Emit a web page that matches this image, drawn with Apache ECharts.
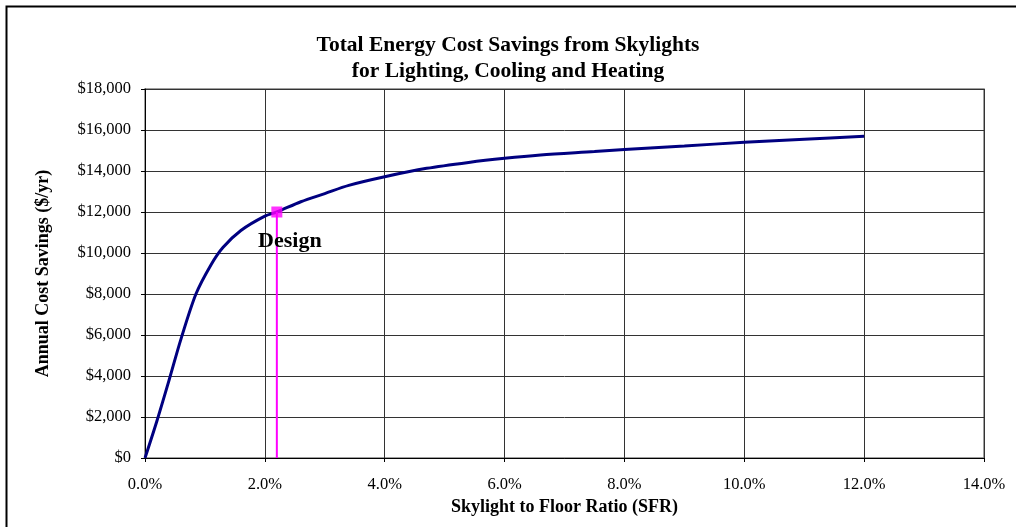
<!DOCTYPE html>
<html>
<head>
<meta charset="utf-8">
<script src="https://cdn.jsdelivr.net/npm/echarts@6/dist/echarts.min.js"></script>
<style>
	html, body { margin: 0; padding: 0; background: #fff; }
	#chart { width: 1016px; height: 527px; }
</style>
</head>
<body>
<div id="chart"></div>
<script>
// skylight to floor ratio (%) and annual savings ($/yr)
const sfr = [0, 0.2, 0.4, 0.6, 0.85, 1.1, 1.3, 1.6, 2.0, 2.2, 2.6, 3.0, 3.4, 4.0, 4.7, 5.4, 6.0, 6.6, 7.5, 8.0, 9.0, 10.0, 11.0, 12.0];
const savings = [0, 1820, 3780, 5800, 8000, 9420, 10270, 11100, 11800, 12000, 12500, 12900, 13300, 13720, 14130, 14420, 14620, 14780, 14950, 15050, 15220, 15400, 15550, 15700];

// design point
const designSfr = 2.2;
const designSavings = 12000;

const titleLines = ["Total Energy Cost Savings from Skylights", "for Lighting, Cooling and Heating"];

const serif = "'Liberation Serif', 'Times New Roman', serif";

const chart = echarts.init(document.getElementById("chart"));

const option = {
	animation: false,
	backgroundColor: "#fff",
	title: {
		text: titleLines.join("\n"),
		left: "center",
		top: 27,
		padding: [5, 5, 5, 13],
		textStyle: {
			fontFamily: serif,
			fontSize: 21.5,
			fontWeight: "bold",
			color: "#000",
			lineHeight: 26
		}
	},
	graphic: [
		{
			type: "rect",
			left: 4,
			top: 4,
			shape: { width: 1030, height: 540 },
			style: { fill: "none", stroke: "#000", lineWidth: 2 },
			silent: true
		}
	],
	grid: {
		left: 145,
		right: 32,
		top: 89,
		bottom: 69,
		show: true,
		borderColor: "#808080",
		borderWidth: 1.5
	},
	xAxis: {
		type: "value",
		min: 0,
		max: 14,
		interval: 2,
		name: "Skylight to Floor Ratio (SFR)",
		nameLocation: "middle",
		nameGap: 32,
		nameTextStyle: {
			fontFamily: serif,
			fontSize: 18,
			fontWeight: "bold",
			color: "#000"
		},
		axisLine: { show: true, onZero: false, lineStyle: { color: "#000", width: 1 } },
		axisTick: { show: true, length: 4, lineStyle: { color: "#000" } },
		axisLabel: {
			margin: 18,
			fontFamily: serif,
			fontSize: 16.5,
			color: "#000",
			formatter: v => v.toFixed(1) + "%"
		},
		splitLine: { show: true, lineStyle: { color: "#333", width: 1 } }
	},
	yAxis: {
		type: "value",
		min: 0,
		max: 18000,
		interval: 2000,
		name: "Annual Cost Savings ($/yr)",
		nameLocation: "middle",
		nameGap: 93,
		nameTextStyle: {
			fontFamily: serif,
			fontSize: 18,
			fontWeight: "bold",
			color: "#000"
		},
		axisLine: { show: true, lineStyle: { color: "#000", width: 1 } },
		axisTick: { show: true, length: 4, lineStyle: { color: "#000" } },
		axisLabel: {
			margin: 14,
			fontFamily: serif,
			fontSize: 16.5,
			color: "#000",
			formatter: v => "$" + v.toLocaleString("en-US")
		},
		splitLine: { show: true, lineStyle: { color: "#333", width: 1 } }
	},
	series: [
		{
			type: "line",
			data: sfr.map((x, i) => [x, savings[i]]),
			smooth: 0.3,
			symbol: "none",
			lineStyle: { color: "#000080", width: 3 },
			z: 3
		},
		{
			type: "line",
			data: [[designSfr, 0], [designSfr, designSavings]],
			symbol: "none",
			lineStyle: { color: "#ff00ff", width: 2 },
			z: 4
		},
		{
			type: "scatter",
			data: [[designSfr, designSavings]],
			symbol: "rect",
			symbolSize: 11,
			itemStyle: { color: "#ff00ff" },
			label: {
				show: true,
				position: "bottom",
				offset: [13, 8],
				formatter: "Design",
				fontFamily: serif,
				fontSize: 22,
				fontWeight: "bold",
				color: "#000",
				opacity: 1
			},
			z: 5
		}
	]
};

option && chart.setOption(option);
</script>
</body>
</html>
